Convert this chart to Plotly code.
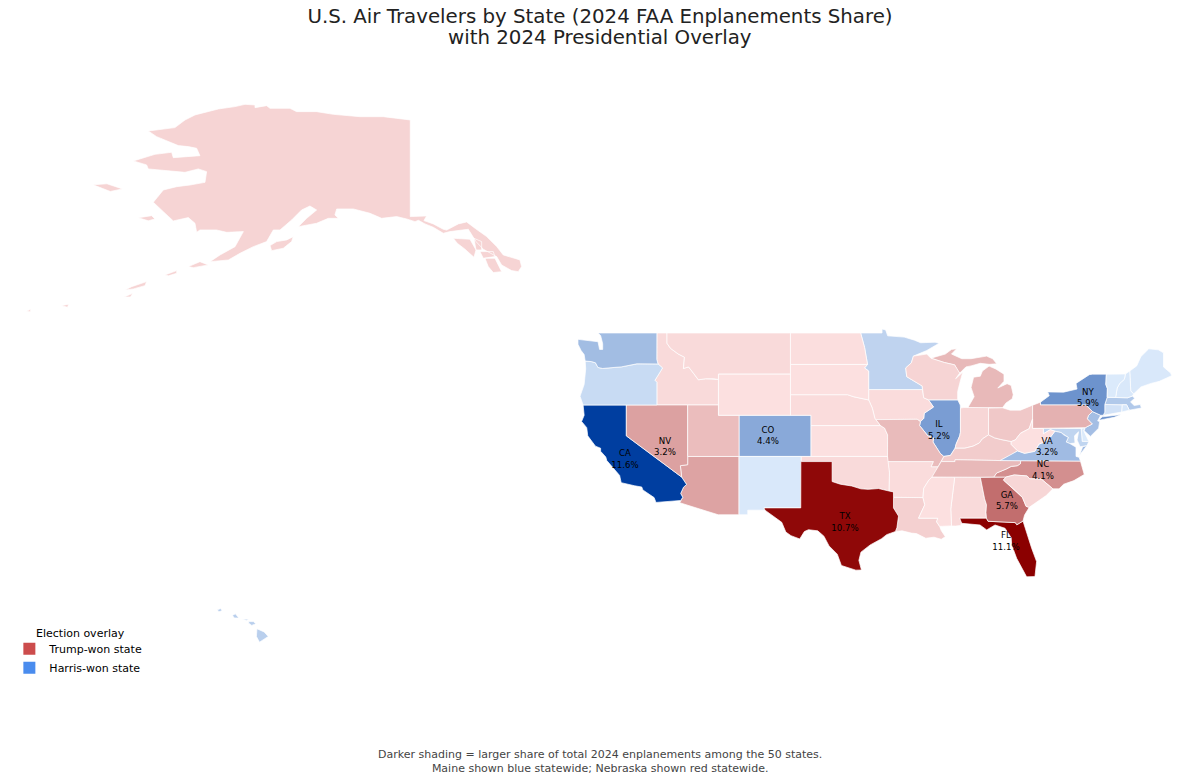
import plotly.graph_objects as go
from plotly.colors import find_intermediate_color

STATES = ["AL", "AK", "AZ", "AR", "CA", "CO", "CT", "DE", "FL", "GA", "HI", "ID", "IL", "IN", "IA", "KS", "KY",
          "LA", "ME", "MD", "MA", "MI", "MN", "MS", "MO", "MT", "NE", "NV", "NH", "NJ", "NM", "NY", "NC", "ND",
          "OH", "OK", "OR", "PA", "RI", "SC", "SD", "TN", "TX", "UT", "VT", "VA", "WA", "WV", "WI", "WY"]
SHARES = [0.4, 0.7, 3.1, 0.3, 11.6, 4.4, 0.6, 0.1, 11.1, 5.7, 1.9, 0.4, 5.2, 0.6, 0.3, 0.1, 1.1,
          0.9, 0.2, 1.5, 2.3, 2.0, 1.6, 0.1, 1.9, 0.4, 0.3, 3.2, 0.2, 3.0, 0.2, 5.9, 4.1, 0.2,
          1.3, 0.4, 1.1, 2.4, 0.3, 0.6, 0.1, 2.0, 10.7, 1.8, 0.1, 3.2, 3.1, 0.1, 0.7, 0.1]
HARRIS_STATES = ["CA", "CO", "CT", "DE", "HI", "IL", "ME", "MD", "MA", "MN", "NH", "NJ", "NM", "NY", "OR", "RI",
                 "VT", "VA", "WA"]

# printed labels, placed where the reference has them
LABEL_STATES = ["CA", "NV", "CO", "TX", "IL", "NY", "VA", "NC", "GA", "FL"]
LABEL_LON = [-120.13, -116.25, -106.24, -98.75, -89.62, -75.14, -79.12, -79.51, -83.01, -83.11]
LABEL_LAT = [36.66, 37.92, 38.99, 30.54, 39.48, 42.68, 37.92, 35.59, 32.67, 28.69]

# hand simplified state outlines, (lon, lat), one list per polygon
WA = [[(-124.7, 48.38), (-123.2, 48.15), (-122.75, 48.15), (-122.6, 47.4), (-122.3, 47.4), (-122.3, 47.95), (-122.5, 48.75),
       (-122.76, 49), (-117.03, 49), (-117.04, 46.42), (-116.92, 45.99), (-118.98, 46), (-119.3, 45.93), (-120.5, 45.7),
       (-121.2, 45.65), (-122.3, 45.55), (-122.76, 45.65), (-123, 46.1), (-123.4, 46.22), (-124, 46.27), (-124.1, 46.9),
       (-124.4, 47.3), (-124.7, 47.9)]]
OR = [[(-124, 46.27), (-123.4, 46.22), (-123, 46.1), (-122.76, 45.65), (-122.3, 45.55), (-121.2, 45.65), (-120.5, 45.7),
       (-119.3, 45.93), (-118.98, 46), (-116.92, 45.99), (-116.48, 45.6), (-116.85, 45), (-117.22, 44.4), (-117.03, 44.2),
       (-117.03, 42), (-124.2, 42), (-124.5, 42.85), (-124.1, 44), (-123.95, 45.5)]]
CA = [[(-124.2, 42), (-120, 42), (-120, 39), (-114.63, 35), (-114.15, 34.27), (-114.45, 34), (-114.72, 33.4), (-114.52, 33.03),
       (-114.72, 32.72), (-117.12, 32.53), (-117.3, 33), (-118.4, 33.75), (-118.5, 34.03), (-119.2, 34.15), (-120.5, 34.45),
       (-120.65, 35.15), (-121.9, 36.6), (-122, 36.95), (-122.5, 37.5), (-122.5, 37.8), (-123, 38), (-123.75, 39),
       (-123.85, 39.8), (-124.35, 40.4), (-124.1, 41), (-124.2, 41.75)]]
NV = [[(-120, 42), (-114.04, 42), (-114.04, 36.2), (-114.75, 36.1), (-114.63, 35), (-120, 39)]]
ID = [[(-117.03, 49), (-116.05, 49), (-116.05, 48), (-115.7, 47.5), (-114.95, 46.95), (-114.35, 46.65), (-114.45, 45.55),
       (-113.95, 45.7), (-113.45, 45.05), (-113, 44.45), (-112.3, 44.55), (-111.5, 44.55), (-111.05, 44.48), (-111.05, 42),
       (-117.03, 42), (-117.03, 44.2), (-117.22, 44.4), (-116.85, 45), (-116.48, 45.6), (-116.92, 45.99), (-117.04, 46.42)]]
MT = [[(-116.05, 49), (-104.05, 49), (-104.05, 45), (-111.05, 45), (-111.05, 44.48), (-111.5, 44.55), (-112.3, 44.55),
       (-113, 44.45), (-113.45, 45.05), (-113.95, 45.7), (-114.45, 45.55), (-114.35, 46.65), (-114.95, 46.95), (-115.7, 47.5),
       (-116.05, 48)]]
WY = [[(-111.05, 45), (-104.05, 45), (-104.05, 41), (-111.05, 41)]]
UT = [[(-114.04, 42), (-111.05, 42), (-111.05, 41), (-109.05, 41), (-109.05, 37), (-114.04, 37)]]
CO = [[(-109.05, 41), (-102.05, 41), (-102.05, 37), (-109.05, 37)]]
AZ = [[(-114.04, 37), (-109.05, 37), (-109.05, 31.33), (-111.07, 31.33), (-114.81, 32.5), (-114.72, 32.72), (-114.52, 33.03),
       (-114.72, 33.4), (-114.45, 34), (-114.15, 34.27), (-114.63, 35), (-114.75, 36.1), (-114.04, 36.2)]]
NM = [[(-109.05, 37), (-103, 37), (-103.05, 32), (-106.62, 32), (-106.53, 31.78), (-108.2, 31.78), (-108.2, 31.33), (-109.05, 31.33)]]
ND = [[(-104.05, 49), (-97.23, 49), (-96.85, 47.6), (-96.56, 45.94), (-104.05, 45.94)]]
SD = [[(-104.05, 45.94), (-96.56, 45.94), (-96.85, 45.6), (-96.45, 45.3), (-96.45, 43.5), (-96.45, 42.49), (-97.9, 42.8),
       (-98.5, 43), (-104.05, 43)]]
NE = [[(-104.05, 43), (-98.5, 43), (-97.9, 42.8), (-96.45, 42.49), (-96.1, 41.7), (-95.85, 40.7), (-95.31, 40), (-102.05, 40),
       (-102.05, 41), (-104.05, 41)]]
KS = [[(-102.05, 40), (-95.31, 40), (-94.9, 39.75), (-94.61, 39.1), (-94.62, 37), (-102.05, 37)]]
OK = [[(-103, 37), (-94.62, 37), (-94.43, 35.4), (-94.48, 33.64), (-95.5, 33.88), (-96.5, 33.8), (-97.2, 33.85), (-98.1, 34.13),
       (-99.2, 34.3), (-100, 34.56), (-100, 36.5), (-103, 36.5)]]
TX = [[(-103.04, 36.5), (-100, 36.5), (-100, 34.56), (-99.2, 34.3), (-98.1, 34.13), (-97.2, 33.85), (-96.5, 33.8), (-95.5, 33.88),
       (-94.48, 33.64), (-94.04, 33.55), (-94.04, 32), (-93.55, 31.2), (-93.7, 30.1), (-93.85, 29.7), (-94.7, 29.4), (-95.2, 29),
       (-96.3, 28.4), (-97.2, 27.7), (-97.4, 26.9), (-97.15, 25.96), (-97.7, 25.95), (-99.1, 26.4), (-99.5, 27.5), (-100.3, 28.3),
       (-100.8, 29.25), (-101.4, 29.77), (-102.3, 29.88), (-102.7, 29.7), (-103.15, 28.98), (-104, 29.3), (-104.5, 29.65),
       (-104.9, 30.6), (-106.53, 31.78), (-106.62, 32), (-103.05, 32)]]
MN = [[(-97.23, 49), (-95.15, 49), (-95.15, 49.38), (-94.8, 49.3), (-94.6, 48.72), (-93, 48.6), (-92, 48.3), (-91.4, 48.05),
       (-90, 48.1), (-89.6, 48), (-90.8, 47.3), (-92.1, 46.75), (-92.3, 46.1), (-92.85, 45.6), (-92.75, 44.75), (-91.25, 43.85),
       (-91.22, 43.5), (-96.45, 43.5), (-96.45, 45.3), (-96.85, 45.6), (-96.56, 45.94), (-96.85, 47.6)]]
IA = [[(-96.45, 43.5), (-91.22, 43.5), (-91.1, 42.7), (-90.64, 42.5), (-90.15, 41.8), (-91.05, 41.2), (-91.1, 40.7), (-91.42, 40.38),
       (-91.73, 40.61), (-95.77, 40.58), (-95.85, 40.7), (-96.1, 41.7), (-96.45, 42.49)]]
MO = [[(-95.77, 40.58), (-91.73, 40.61), (-91.42, 40.38), (-91.5, 40), (-90.7, 39), (-90.15, 38.8), (-90.2, 38.4), (-89.5, 37.3),
       (-89.15, 37), (-89.4, 36.5), (-89.7, 36), (-90.37, 36), (-90.15, 36.5), (-94.62, 36.5), (-94.62, 37), (-94.61, 39.1),
       (-94.9, 39.75), (-95.31, 40)]]
AR = [[(-94.62, 36.5), (-90.15, 36.5), (-90.37, 36), (-89.7, 36), (-90.1, 35.1), (-90.6, 34.7), (-91.1, 33.9), (-91.17, 33),
       (-94.04, 33.02), (-94.04, 33.55), (-94.48, 33.64), (-94.43, 35.4)]]
LA = [[(-94.04, 33.02), (-91.17, 33), (-91, 32.3), (-91.6, 31), (-89.73, 31), (-89.85, 30.65), (-89.55, 30.2), (-89.4, 29.8),
       (-89, 29.2), (-89.4, 28.95), (-90.1, 29.15), (-90.9, 29.05), (-91.8, 29.5), (-92.3, 29.55), (-93.2, 29.77), (-93.85, 29.7),
       (-93.7, 30.1), (-93.55, 31.2), (-94.04, 32)]]
MS = [[(-91.17, 33), (-91.1, 33.9), (-90.6, 34.7), (-90.3, 35), (-88.2, 35), (-88.1, 34.9), (-88.47, 31.9), (-88.4, 30.25),
       (-89.55, 30.2), (-89.85, 30.65), (-89.73, 31), (-91.6, 31), (-91, 32.3)]]
AL = [[(-88.2, 35), (-85.6, 34.98), (-85.18, 32.87), (-85, 32.3), (-85.05, 31.55), (-85, 31), (-87.6, 31), (-87.4, 30.65),
       (-87.5, 30.3), (-88, 30.23), (-88.4, 30.25), (-88.47, 31.9), (-88.1, 34.9)]]
TN = [[(-90.3, 35), (-89.7, 36), (-89.4, 36.5), (-88.06, 36.5), (-88.06, 36.68), (-83.68, 36.6), (-81.68, 36.59), (-81.7, 36.3),
       (-82, 36.1), (-82.6, 36.03), (-83.1, 35.77), (-84, 35.4), (-84.3, 35), (-85.6, 34.98), (-88.2, 35)]]
KY = [[(-89.4, 36.5), (-89.15, 37), (-88.5, 37.1), (-88.05, 37.8), (-87.1, 37.8), (-86.3, 38), (-85.7, 38.3), (-85.4, 38.7),
       (-84.8, 39.1), (-84.2, 38.8), (-83.6, 38.65), (-82.6, 38.45), (-82.6, 38.17), (-81.97, 37.54), (-82.7, 37.1), (-83.68, 36.6),
       (-88.06, 36.68), (-88.06, 36.5)]]
IL = [[(-90.64, 42.5), (-87.8, 42.5), (-87.55, 42), (-87.53, 41.7), (-87.53, 39.35), (-87.6, 39), (-87.95, 38.2), (-88.05, 37.8),
       (-88.5, 37.1), (-89.15, 37), (-89.5, 37.3), (-90.2, 38.4), (-90.15, 38.8), (-90.7, 39), (-91.5, 40), (-91.42, 40.38),
       (-91.1, 40.7), (-91.05, 41.2), (-90.15, 41.8)]]
IN = [[(-87.53, 41.7), (-87.2, 41.76), (-84.8, 41.76), (-84.8, 39.1), (-85.4, 38.7), (-85.7, 38.3), (-86.3, 38), (-87.1, 37.8),
       (-88.05, 37.8), (-87.95, 38.2), (-87.6, 39), (-87.53, 39.35)]]
OH = [[(-84.8, 41.7), (-83.45, 41.73), (-82.7, 41.5), (-81.7, 41.5), (-80.52, 41.98), (-80.52, 40.64), (-80.85, 39.7), (-81.7, 39.25),
       (-82.2, 38.6), (-82.6, 38.45), (-83.6, 38.65), (-84.2, 38.8), (-84.8, 39.1)]]
MI = [[(-86.8, 41.76), (-83.45, 41.73), (-83.1, 42.2), (-82.5, 42.6), (-82.4, 43), (-82.6, 43.9), (-83, 44.07), (-83.9, 43.65),
       (-83.3, 44.3), (-83.3, 45), (-84.1, 45.5), (-84.75, 45.78), (-85.4, 45.3), (-85.6, 44.8), (-86.25, 44.7), (-86.5, 43.7),
       (-86.2, 42.8), (-86.6, 42)],
      [(-90.4, 46.55), (-89, 46.95), (-88.4, 47.4), (-87.9, 47.47), (-88.4, 46.95), (-87.4, 46.5), (-86.5, 46.5), (-85, 46.75),
       (-84.4, 46.5), (-84, 46), (-84.75, 45.95), (-85.6, 46.05), (-86.5, 45.8), (-87, 45.7), (-87.6, 45.1), (-87.8, 45.35),
       (-88.1, 45.9), (-89.1, 46.13)]]
WI = [[(-92.1, 46.75), (-90.8, 46.95), (-90.4, 46.55), (-89.1, 46.13), (-88.1, 45.9), (-87.8, 45.35), (-87.6, 45.1), (-88, 44.55),
       (-87.3, 45.2), (-87.55, 44.3), (-87.8, 43.3), (-87.8, 42.5), (-90.64, 42.5), (-91.1, 42.7), (-91.22, 43.5), (-91.25, 43.85),
       (-92.75, 44.75), (-92.85, 45.6), (-92.3, 46.1)]]
PA = [[(-80.52, 41.98), (-79.76, 42.27), (-79.76, 42), (-75.35, 42), (-74.7, 41.36), (-75.1, 40.97), (-75.2, 40.65), (-74.72, 40.15),
       (-75.4, 39.8), (-80.52, 39.72)]]
NY = [[(-79.76, 42.27), (-78.9, 42.9), (-79.05, 43.27), (-77.5, 43.25), (-76.2, 43.55), (-76.3, 44.1), (-75, 44.95), (-74.7, 45),
       (-73.35, 45), (-73.4, 44), (-73.25, 43.6), (-73.27, 42.75), (-73.5, 42.05), (-73.5, 41.3), (-73.65, 41), (-73.9, 41),
       (-74.7, 41.36), (-75.35, 42), (-79.76, 42)],
      [(-74.03, 40.6), (-73.75, 40.85), (-72.6, 40.98), (-71.9, 41.07), (-72.6, 40.8), (-73.9, 40.55)]]
NJ = [[(-74.7, 41.36), (-73.9, 41), (-74.2, 40.45), (-74, 40.4), (-74.1, 39.75), (-74.9, 38.95), (-75.5, 39.5), (-75.4, 39.8),
       (-74.72, 40.15), (-75.2, 40.65), (-75.1, 40.97)]]
DE = [[(-75.8, 39.72), (-75.4, 39.8), (-75.55, 39.5), (-75.05, 38.45), (-75.7, 38.46)]]
MD = [[(-79.48, 39.72), (-75.8, 39.72), (-75.7, 38.46), (-75.05, 38.45), (-75.25, 38.03), (-75.9, 37.95), (-76.2, 38.6), (-76.05, 39.4),
       (-76.45, 39), (-76.4, 38.3), (-76.9, 38.25), (-77.25, 38.4), (-77.05, 38.85), (-77.5, 39.1), (-77.75, 39.32), (-78.35, 39.45),
       (-78.8, 39.6), (-79.48, 39.2)]]
VA = [[(-83.68, 36.6), (-82.7, 37.1), (-81.97, 37.54), (-81.3, 37.3), (-80.3, 37.5), (-79.9, 38.2), (-79.3, 38.42), (-78.87, 38.76),
       (-78.35, 39.45), (-77.75, 39.32), (-77.5, 39.1), (-77.05, 38.85), (-77.25, 38.4), (-76.9, 38.25), (-76.3, 37.9), (-76.3, 37),
       (-76, 36.92), (-75.87, 36.55), (-81.68, 36.59)],
      [(-75.95, 37.15), (-75.25, 38.03), (-75.65, 37.95)]]
WV = [[(-80.52, 40.64), (-80.52, 39.72), (-79.48, 39.72), (-79.48, 39.2), (-78.8, 39.6), (-78.35, 39.45), (-78.87, 38.76), (-79.3, 38.42),
       (-79.9, 38.2), (-80.3, 37.5), (-81.3, 37.3), (-81.97, 37.54), (-82.6, 38.17), (-82.6, 38.45), (-82.2, 38.6), (-81.7, 39.25),
       (-80.85, 39.7)]]
NC = [[(-84.3, 35), (-84, 35.4), (-83.1, 35.77), (-82.6, 36.03), (-82, 36.1), (-81.7, 36.3), (-81.68, 36.59), (-75.87, 36.55),
       (-75.5, 35.25), (-76.5, 34.65), (-77.5, 34.3), (-77.95, 33.85), (-78.55, 33.85), (-79.67, 34.8), (-80.8, 34.82), (-81.05, 35.1),
       (-82.3, 35.2), (-83.1, 35)]]
SC = [[(-83.1, 35), (-82.3, 35.2), (-81.05, 35.1), (-80.8, 34.82), (-79.67, 34.8), (-78.55, 33.85), (-79.2, 33.2), (-79.9, 32.7),
       (-80.85, 32.05), (-81.15, 32.15), (-81.5, 33), (-82, 33.5), (-82.6, 34), (-83.35, 34.7)]]
GA = [[(-85.6, 34.98), (-83.1, 35), (-83.35, 34.7), (-82.6, 34), (-82, 33.5), (-81.5, 33), (-81.15, 32.15), (-80.85, 32.05),
       (-81.3, 31.3), (-81.45, 30.72), (-82.05, 30.36), (-82.2, 30.57), (-84.85, 30.7), (-85, 31), (-85.05, 31.55), (-85, 32.3),
       (-85.18, 32.87)]]
FL = [[(-87.6, 31), (-85, 31), (-84.85, 30.7), (-82.2, 30.57), (-82.05, 30.36), (-81.45, 30.72), (-80.61, 28.08), (-80.13, 26.78),
       (-80.29, 25.32), (-81.1, 25.3), (-82.07, 27.1), (-82.55, 28.4), (-82.6, 29.1), (-83.2, 30.02), (-84.17, 30.34), (-84.98, 29.86),
       (-85.63, 30.34), (-87.41, 30.5)]]
VT = [[(-73.35, 45), (-71.5, 45.01), (-71.6, 44.5), (-72.05, 44.1), (-72.3, 43.65), (-72.45, 42.73), (-73.27, 42.75), (-73.25, 43.6), (-73.4, 44)]]
NH = [[(-71.5, 45.01), (-71.08, 45.3), (-70.98, 43.37), (-70.7, 43.07), (-70.82, 42.87), (-71.3, 42.7), (-72.45, 42.73), (-72.3, 43.65),
       (-72.05, 44.1), (-71.6, 44.5)]]
ME = [[(-71.08, 45.3), (-70.4, 45.8), (-70, 46.7), (-69.23, 47.46), (-68.3, 47.36), (-67.8, 47.07), (-67.8, 45.7), (-67.1, 45.1), (-67, 44.85),
       (-68.2, 44.3), (-69, 44.1), (-70, 43.75), (-70.7, 43.07), (-70.98, 43.37)]]
MA = [[(-73.5, 42.05), (-73.27, 42.75), (-71.3, 42.7), (-70.82, 42.87), (-70.6, 42.65), (-71, 42.3), (-70.65, 41.95), (-70.05, 42.05),
       (-69.95, 41.7), (-70.65, 41.55), (-71.12, 41.5), (-71.38, 42.02), (-71.8, 42.02)]]
RI = [[(-71.8, 42.02), (-71.38, 42.02), (-71.12, 41.5), (-71.85, 41.32)]]
CT = [[(-73.5, 42.05), (-71.8, 42.02), (-71.85, 41.32), (-73.65, 41), (-73.5, 41.3)]]
HI = [[(-155.9, 20.25), (-155.2, 19.95), (-154.8, 19.5), (-155.65, 18.95), (-155.95, 19.5)],
      [(-156.7, 20.95), (-156.25, 20.95), (-156, 20.75), (-156.4, 20.58), (-156.7, 20.8)],
      [(-157.3, 21.2), (-156.7, 21.17), (-156.9, 21.05)],
      [(-158.28, 21.55), (-158, 21.7), (-157.65, 21.3), (-158.1, 21.3)],
      [(-159.75, 22.1), (-159.4, 22.22), (-159.3, 22), (-159.6, 21.9)]]
AK = [[(-157.06, 71.22), (-156.09, 71.16), (-156.09, 70.9), (-154.96, 71.09), (-154.63, 70.83), (-152.69, 70.83), (-152.04, 70.51),
       (-150.1, 70.51), (-148.48, 70.25), (-145.89, 70.02), (-143.62, 70.02), (-141, 69.7), (-141, 60.31), (-139.41, 60.37), (-139.67, 59.92),
       (-138.76, 59.6), (-137.79, 59.08), (-137.46, 59), (-136.33, 59.6), (-135.52, 59.79), (-134.71, 59.18), (-133.58, 58.37), (-132.6, 57.4),
       (-131.96, 56.58), (-130.34, 56.1), (-130.18, 55.45), (-130.5, 54.96), (-131.15, 55.06), (-132.12, 55.61), (-132.6, 56.42), (-133.9, 57.14),
       (-134.61, 57.88), (-135.36, 59.08), (-136.49, 58.95), (-137.14, 58.85), (-137.79, 58.69), (-138.76, 59.27), (-139.57, 59.6), (-140.2, 59.95),
       (-140.54, 59.82), (-141.35, 60.08), (-142.32, 60.31), (-143.78, 60.14), (-144.91, 60.63), (-146.53, 61.05), (-148.15, 61.05),
       (-148.32, 60.47), (-147.99, 60.14), (-148.96, 60.14), (-150.1, 59.66), (-151.88, 59.33), (-151.07, 60.14), (-150.1, 60.95),
       (-150.75, 61.34), (-151.56, 60.95), (-152.53, 59.98), (-153.66, 59.01), (-154.31, 59.01), (-154.96, 57.88), (-156.25, 57.39),
       (-157.55, 56.74), (-158.68, 56.09), (-160.46, 55.93), (-159.49, 56.58), (-158.03, 57.39), (-157.22, 58.85), (-158.84, 58.78),
       (-159.82, 59.01), (-161.44, 59.01), (-161.76, 58.78), (-161.92, 59.66), (-162.57, 60.21), (-164.03, 59.89), (-165, 60.79),
       (-165.97, 61.7), (-165, 62.9), (-163.7, 63.22), (-162.41, 63.38), (-160.95, 63.64), (-160.79, 64.68), (-161.6, 64.94),
       (-162.89, 64.61), (-164.35, 64.74), (-166.46, 64.94), (-166.62, 65.33), (-167.91, 65.72), (-165.81, 66.36), (-164.19, 66.56),
       (-164.03, 66.04), (-161.44, 66.23), (-161.76, 66.95), (-162.57, 67.11), (-163.54, 67.21), (-165.65, 68.08), (-166.46, 68.63),
       (-163.87, 68.96), (-162.89, 69.7), (-161.92, 70.19), (-159.65, 70.77), (-158.03, 71)],
      [(-154.63, 57.49), (-153.98, 57.88), (-153.01, 58.04), (-152.37, 58.36), (-152.53, 57.88), (-153.34, 57.23), (-154.47, 57)],
      [(-162.57, 55.45), (-161.44, 55.93), (-160.63, 55.61), (-162.08, 55.35)],
      [(-164.84, 54.64), (-163.7, 55.06), (-163.7, 54.8), (-164.5, 54.55)],
      [(-168.72, 53.18), (-168.08, 53.5), (-166.62, 53.99), (-166.78, 53.6), (-167.9, 53.28)],
      [(-171.82, 63.4), (-170.48, 63.5), (-168.97, 63), (-170.15, 62.75)],
      [(-167.43, 60.2), (-166.13, 60.4), (-165.81, 60.08), (-166.46, 59.9)],
      [(-168.8, 52.5), (-167.97, 52.85), (-168.2, 52.5)],
      [(-174.9, 51.65), (-174.2, 51.8), (-174.3, 51.5)],
      [(-178.3, 51.1), (-177.9, 51.3), (-177.9, 51.05)],
      [(-136.82, 58.2), (-135.2, 58.11), (-134.61, 57.07), (-134.81, 56.36), (-135.68, 57.14), (-136.43, 57.72)],
      [(-134.81, 58.2), (-134.06, 57.88), (-134.06, 57.07), (-134.61, 57.07)],
      [(-134.23, 56.91), (-132.93, 56.91), (-132.77, 56.42), (-133.9, 56.26)],
      [(-133.74, 56.26), (-132.77, 56.26), (-132.12, 54.96), (-132.93, 54.87), (-133.42, 55.45)]]

OUTLINES = dict(AL=AL, AK=AK, AZ=AZ, AR=AR, CA=CA, CO=CO, CT=CT, DE=DE, FL=FL, GA=GA, HI=HI, ID=ID, IL=IL, IN=IN, IA=IA, KS=KS,
                KY=KY, LA=LA, ME=ME, MD=MD, MA=MA, MI=MI, MN=MN, MS=MS, MO=MO, MT=MT, NE=NE, NV=NV, NH=NH, NJ=NJ, NM=NM, NY=NY,
                NC=NC, ND=ND, OH=OH, OK=OK, OR=OR, PA=PA, RI=RI, SC=SC, SD=SD, TN=TN, TX=TX, UT=UT, VT=VT, VA=VA, WA=WA, WV=WV,
                WI=WI, WY=WY)

RED_LOW, RED_HIGH = "rgb(253, 226, 226)", "rgb(139, 0, 0)"
BLUE_LOW, BLUE_HIGH = "rgb(221, 235, 252)", "rgb(0, 62, 160)"
TRUMP_KEY, HARRIS_KEY = "#cc4c4c", "#4a8cee"

share_of = dict(zip(STATES, SHARES))
red_max = max(s for st, s in share_of.items() if st not in HARRIS_STATES)
blue_max = max(s for st, s in share_of.items() if st in HARRIS_STATES)


def state_colour(state):
    # darker = larger share, each side scaled to its own largest state
    if state in HARRIS_STATES:
        return find_intermediate_color(BLUE_LOW, BLUE_HIGH, share_of[state] / blue_max, colortype="rgb")
    return find_intermediate_color(RED_LOW, RED_HIGH, share_of[state] / red_max, colortype="rgb")


fig = go.Figure()

for state in STATES:
    xs, ys = [], []
    for poly in OUTLINES[state]:
        closed = poly + poly[:1]
        xs += [p[0] for p in closed] + [None]
        ys += [p[1] for p in closed] + [None]
    fig.add_trace(go.Scatter(x=xs, y=ys, mode="lines", fill="toself", fillcolor=state_colour(state),
                             line=dict(color="white", width=0.7), showlegend=False, name=state,
                             hoverinfo="name"))

fig.add_trace(go.Scatter(x=LABEL_LON, y=LABEL_LAT, mode="text",
                         text=[f"{st}<br>{share_of[st]:.1f}%" for st in LABEL_STATES],
                         textfont=dict(size=8.6, color="black"), showlegend=False, hoverinfo="skip"))

# empty traces, only there for the legend
fig.add_trace(go.Scatter(x=[None], y=[None], mode="markers", name="Trump-won state",
                         marker=dict(symbol="square", size=12, color=TRUMP_KEY)))
fig.add_trace(go.Scatter(x=[None], y=[None], mode="markers", name="Harris-won state",
                         marker=dict(symbol="square", size=12, color=HARRIS_KEY)))

fig.add_annotation(text="with 2024 Presidential Overlay", xref="paper", yref="paper", x=0.5, y=1 - 38 / 782,
                   yanchor="middle", showarrow=False, font=dict(size=19.8, color="#222222"))
fig.add_annotation(text="Election overlay", xref="paper", yref="paper", x=35 / 1200, y=1 - 633 / 782,
                   xanchor="left", yanchor="middle", showarrow=False, font=dict(size=11), xshift=-1)
fig.add_annotation(text="Darker shading = larger share of total 2024 enplanements among the 50 states.<br>"
                        "Maine shown blue statewide; Nebraska shown red statewide.",
                   xref="paper", yref="paper", x=0.5, y=0.0067, yanchor="bottom", showarrow=False,
                   font=dict(size=11, color="#444444"))

fig.update_layout(
    width=1200, height=782,
    margin=dict(l=0, r=0, t=0, b=0),
    paper_bgcolor="white", plot_bgcolor="white",
    font=dict(family="DejaVu Sans", color="black"),
    title=dict(text="U.S. Air Travelers by State (2024 FAA Enplanements Share)",
               x=0.5, xanchor="center", y=1 - 16 / 782, yanchor="middle", font=dict(size=19.8, color="#222222")),
    xaxis=dict(visible=False, range=[-180.87, -64.25], fixedrange=True),
    yaxis=dict(visible=False, range=[5.36, 81.36], fixedrange=True),
    legend=dict(x=0.0078, y=0.189, xanchor="left", yanchor="top", bgcolor="rgba(0,0,0,0)",
                font=dict(size=11)),
)

# the page's default body margin would push the figure 8px off
fig.write_html("out.html", config=dict(displayModeBar=False),
               post_script="document.body.style.margin = '0';")
